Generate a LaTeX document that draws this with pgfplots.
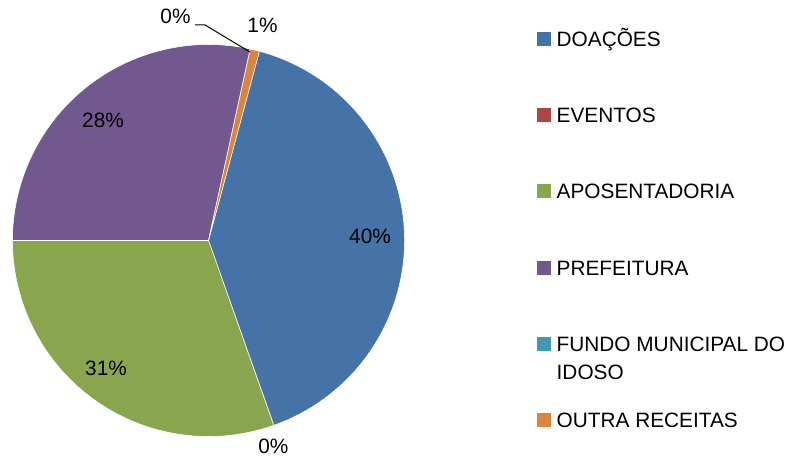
\documentclass[border=0pt]{standalone}
\usepackage{pgfplots}
\usepackage{pgfplotstable}
\pgfplotsset{compat=1.18}
\usepackage{fontspec}
\setmainfont{Liberation Sans}

\definecolor{cA}{HTML}{4572A7}
\definecolor{cB}{HTML}{AA4643}
\definecolor{cC}{HTML}{89A54E}
\definecolor{cD}{HTML}{71588F}
\definecolor{cE}{HTML}{4198AF}
\definecolor{cF}{HTML}{DB843D}

\pgfplotstableread[col sep=comma]{
label,value
DOACOES,40.40
EVENTOS,0.02
APOSENTADORIA,30.40
PREFEITURA,28.40
FUNDO,0.02
OUTRA,0.76
}\piedata

\newcommand\getval[2]{\pgfplotstablegetelem{#1}{value}\of\piedata\global\let#2\pgfplotsretval}
\getval{0}\vA \getval{1}\vB \getval{2}\vC \getval{3}\vD \getval{4}\vE \getval{5}\vF
% first slice starts 15.05 deg clockwise from 12 o'clock
\pgfmathsetmacro\aA{90-15.05}
\pgfmathsetmacro\aB{\aA-3.6*\vA}
\pgfmathsetmacro\aC{\aB-3.6*\vB}
\pgfmathsetmacro\aD{\aC-3.6*\vC}
\pgfmathsetmacro\aE{\aD-3.6*\vD}
\pgfmathsetmacro\aF{\aE-3.6*\vE}
\pgfmathsetmacro\aG{\aF-3.6*\vF}

\newcommand\lbl{\fontsize{15.6}{18}\selectfont}
\def\R{147pt}
\def\cx{208.5}
\def\cy{223.5}

\begin{document}
\begin{tikzpicture}
\begin{axis}[
  x=0.75pt, y=0.75pt,
  xmin=0, xmax=791, ymin=0, ymax=464,
  hide axis, clip=false,
  legend cell align=left,
  legend image code/.code={\fill[#1,draw=none] (0pt,-5.25pt) rectangle (10.5pt,5.25pt);},
  legend style={
    at={(536.7/791, 0.932)}, anchor=north west,
    draw=none, fill=none, inner sep=0pt, outer sep=0pt,
    row sep=46.1pt, column sep=4.5pt,
    font=\lbl,
    nodes={inner sep=0pt, text height=11.1pt, text depth=0pt},
  },
]
\addplot[fill=cA, draw=white, line width=0.4pt] coordinates {(\cx,\cy)} -- ++(\aA:\R) arc[start angle=\aA, end angle=\aB, radius=\R] -- cycle;
\addlegendentry{DOAÇÕES}
\addplot[fill=cB, draw=none] coordinates {(\cx,\cy)} -- ++(\aB:\R) arc[start angle=\aB, end angle=\aC, radius=\R] -- cycle;
\addlegendentry{EVENTOS}
\addplot[fill=cC, draw=white, line width=0.4pt] coordinates {(\cx,\cy)} -- ++(\aC:\R) arc[start angle=\aC, end angle=\aD, radius=\R] -- cycle;
\addlegendentry{APOSENTADORIA}
\addplot[fill=cD, draw=white, line width=0.4pt] coordinates {(\cx,\cy)} -- ++(\aD:\R) arc[start angle=\aD, end angle=\aE, radius=\R] -- cycle;
\addlegendentry{PREFEITURA}
\addplot[fill=cE, draw=none] coordinates {(\cx,\cy)} -- ++(\aE:\R) arc[start angle=\aE, end angle=\aF, radius=\R] -- cycle;
\addlegendentry{\rlap{\raisebox{-21pt}[0pt][0pt]{IDOSO}}FUNDO MUNICIPAL DO}
\addplot[fill=cF, draw=white, line width=0.4pt] coordinates {(\cx,\cy)} -- ++(\aF:\R) arc[start angle=\aF, end angle=\aG, radius=\R] -- cycle;
\addlegendentry{OUTRA RECEITAS}

\node[font=\lbl] at (axis cs:370,228) {40\%};
\node[font=\lbl] at (axis cs:106,96) {31\%};
\node[font=\lbl] at (axis cs:103,344) {28\%};
\node[font=\lbl] at (axis cs:262.5,438.3) {1\%};
\node[font=\lbl] at (axis cs:175.5,447.3) {0\%};
\node[font=\lbl] at (axis cs:273.3,17.7) {0\%};
\draw[black, line width=0.75pt] (axis cs:195,439) -- (axis cs:205,439) -- (axis cs:250,412);
\end{axis}
\pgfresetboundingbox
\path (current axis.south west) rectangle (current axis.north east);
\end{tikzpicture}
\end{document}
